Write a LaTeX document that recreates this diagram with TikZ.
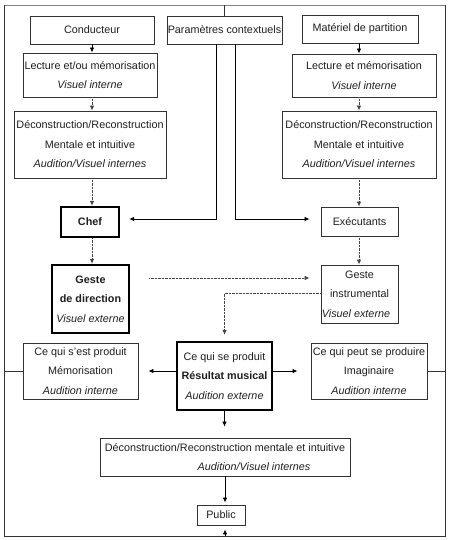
\documentclass[tikz,border=0pt]{standalone}
\usepackage{fontspec}
\setmainfont{Liberation Sans}
\usetikzlibrary{arrows.meta,calc}
\definecolor{boxgray}{HTML}{333333}
\definecolor{txt}{HTML}{1E1E1E}
\definecolor{dotgray}{HTML}{444444}
\tikzset{
  box/.style={draw=boxgray, line width=0.9pt, inner sep=0pt, align=center, text=txt,
    font=\fontsize{10.8}{19.5}\selectfont},
  boldbox/.style={box, draw=black, line width=2.4pt},
  arr/.style={-{Latex[length=5pt,width=4.5pt]}, line width=0.8pt, draw=black},
  darr/.style={-{Latex[length=5pt,width=4.5pt]}, line width=0.8pt, draw=dotgray,
    dash pattern=on 0.8pt off 0.6pt},
  frame/.style={line width=0.9pt, draw=boxgray},
}
\begin{document}
\begin{tikzpicture}[x=1pt,y=-1pt]
\useasboundingbox (0,0) rectangle (450,540);
% boxes
\node[box, minimum width=124pt, minimum height=28pt] (cond) at (92,30) {Conducteur};
\node[box, minimum width=115pt, minimum height=28pt] (param) at (224.5,30) {Paramètres contextuels};
\node[box, minimum width=116pt, minimum height=28pt] (mat) at (360,29) {Matériel de partition};
\node[box, minimum width=134pt, minimum height=44pt] (lec1) at (90,75) {Lecture et/ou mémorisation\\\textit{Visuel interne}};
\node[box, minimum width=144pt, minimum height=43pt] (lec2) at (364,75.5) {Lecture et mémorisation\\\textit{Visuel interne}};
\node[box, minimum width=152pt, minimum height=67pt] (dec1) at (90,144.5) {Déconstruction/Reconstruction\\Mentale et intuitive\\\textit{Audition/Visuel internes}};
\node[box, minimum width=154pt, minimum height=67pt] (dec2) at (359,144.5) {Déconstruction/Reconstruction\\Mentale et intuitive\\\textit{Audition/Visuel internes}};
\node[boldbox, minimum width=58pt, minimum height=30pt] (chef) at (90,222) {\textbf{Chef}};
\node[box, minimum width=77pt, minimum height=29pt] (exec) at (359.5,221.5) {Exécutants};
\node[boldbox, minimum width=77pt, minimum height=68pt] (gdir) at (90.5,299) {\textbf{Geste}\\\textbf{de direction}\\\textit{Visuel externe}};
\node[box, minimum width=77pt, minimum height=58pt] (ginst) at (359.5,294) {Geste\\instrumental\\\hspace*{-7pt}\textit{Visuel externe}};
\node[box, minimum width=115pt, minimum height=56pt] (cqsp) at (80.5,371) {Ce qui s’est produit\\Mémorisation\\\textit{Audition interne}};
\node[boldbox, minimum width=95pt, minimum height=68pt] (res) at (224.5,376) {Ce qui se produit\\\textbf{Résultat musical}\\\textit{Audition externe}};
\node[box, minimum width=116pt, minimum height=56pt] (cqpp) at (369,371) {Ce qui peut se produire\\Imaginaire\\\textit{Audition interne}};
\node[box, minimum width=250pt, minimum height=38pt] (decb) at (225,457) {Déconstruction/Reconstruction mentale et intuitive\\\hspace*{58pt}\textit{Audition/Visuel internes}};
\node[box, minimum width=48pt, minimum height=20pt] (pub) at (221,515) {Public};
% frame
\coordinate (tl) at (4,5);
\coordinate (tr) at (445,5);
\coordinate (bl) at (4,536);
\coordinate (br) at (445,536);
\coordinate (bot) at (225,536);
\draw[frame, draw=gray] (tl) -- (tr);
\draw[frame] (tl) -- (bl) -- (br) -- (tr);
\draw[frame] (param.north) -- (param.north |- tl);
\draw[frame] (cqsp.west) -- (cqsp.west -| tl);
\draw[frame] (cqpp.east) -- (cqpp.east -| tr);
% left column
\draw[arr] (cond.south) -- (cond.south |- lec1.north);
\draw[darr] (lec1.south -| cond.south) -- (cond.south |- dec1.north);
\draw[darr] (dec1.south -| cond.south) -- (cond.south |- chef.north);
\draw[darr] (chef.south -| cond.south) -- (cond.south |- gdir.north);
% right column
\draw[arr] ([xshift=-1pt]mat.south) -- ([xshift=-1pt]mat.south |- lec2.north);
\draw[darr] (lec2.south -| dec2.south) -- (dec2.north);
\draw[darr] (dec2.south) -- (dec2.south |- exec.north);
\draw[darr] (exec.south -| dec2.south) -- (dec2.south |- ginst.north);
% parametres
\draw[arr, shorten >=9pt] ([xshift=-8.5pt]param.south) |- ([yshift=3pt]chef.east);
\draw[arr, shorten >=11pt] ([xshift=10.5pt]param.south) |- ([yshift=2.5pt]exec.west);
% gestures
\draw[darr, shorten <=19pt, shorten >=11pt] ([yshift=21pt]gdir.east) -- ([yshift=21pt]gdir.east -| ginst.west);
\draw[darr, shorten >=6pt] ([yshift=1pt]ginst.west) -| (res.north);
% result
\draw[arr, shorten >=13pt] (res.east |- cqpp.east) -- (cqpp.east -| cqpp.west);
\draw[arr, shorten >=10pt] (res.west |- cqsp.west) -- (cqsp.east);
\draw[arr, shorten >=11pt] (res.south) -- (res.south |- decb.north);
\draw[arr, shorten >=2pt] (decb.south) -- (decb.south |- pub.north);
\draw[arr, shorten >=4pt] (bot) -- (bot |- pub.south);
\end{tikzpicture}
\end{document}
